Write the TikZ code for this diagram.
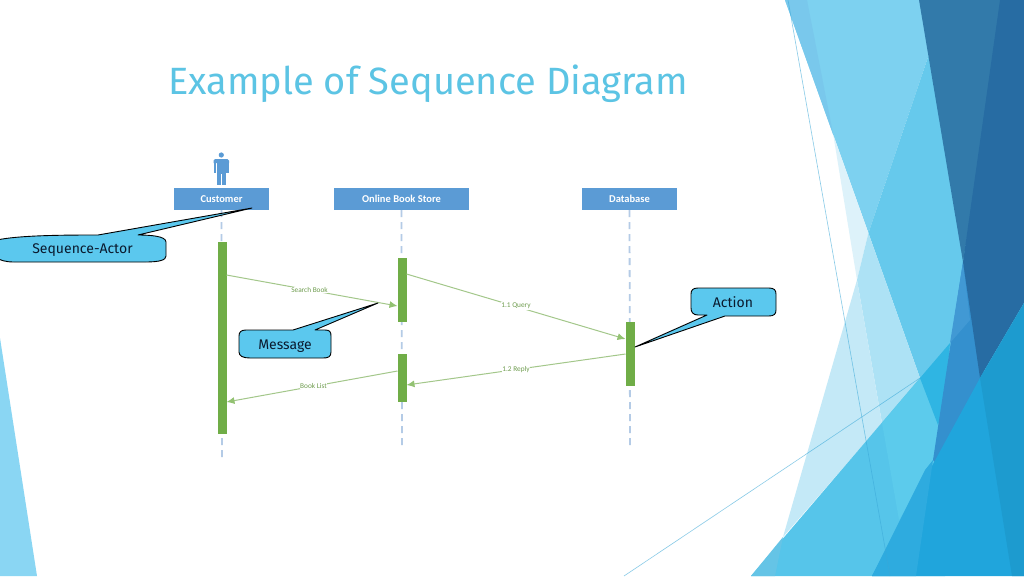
\documentclass[tikz,border=0pt]{standalone}
\usepackage{fontspec}
\setmainfont{Fira Sans}
\newfontfamily\boxfont{Carlito}
\usetikzlibrary{arrows.meta}
\definecolor{titleblue}{HTML}{5CC4E4}
\definecolor{headblue}{HTML}{5B9BD5}
\definecolor{lifeblue}{HTML}{B4CBE6}
\definecolor{actgreen}{HTML}{70AD47}
\definecolor{msggreen}{HTML}{A3C78A}
\definecolor{msgtip}{HTML}{93C272}
\definecolor{msgtext}{HTML}{6E9C4E}
\definecolor{callfill}{HTML}{5BC8EE}
\definecolor{callink}{HTML}{0A1A2E}
\definecolor{fa}{RGB}{138,214,243}
\definecolor{fb}{RGB}{125,209,240}
\definecolor{fc}{RGB}{121,200,236}
\definecolor{fd}{RGB}{102,201,236}
\definecolor{fe}{RGB}{221,242,250}
\definecolor{ff}{RGB}{173,226,245}
\definecolor{fg}{RGB}{196,233,247}
\definecolor{fh}{RGB}{50,122,170}
\definecolor{fi}{RGB}{39,108,163}
\definecolor{fj}{RGB}{86,197,234}
\definecolor{fk}{RGB}{92,203,236}
\definecolor{fl}{RGB}{101,196,230}
\definecolor{fm}{RGB}{47,181,227}
\definecolor{fn}{RGB}{52,144,206}
\definecolor{fnl}{RGB}{65,153,212}
\definecolor{fo}{RGB}{32,165,220}
\definecolor{fp}{RGB}{46,171,223}
\definecolor{fq}{RGB}{29,155,207}
\definecolor{fline}{RGB}{58,168,216}
\tikzset{
  poly/.style={fill=#1,draw=none},
  thinline/.style={draw=fline,draw opacity=0.6,line width=0.6pt},
  headbox/.style={fill=headblue,draw=none,minimum height=22pt,inner sep=0pt,text=white,font=\boxfont\bfseries\fontsize{10.5}{11}\selectfont},
  lifeline/.style={draw=lifeblue,line width=1.8pt,dash pattern=on 7pt off 5pt},
  actbox/.style={fill=actgreen,draw=none,minimum width=9pt,inner sep=0pt},
  message/.style={draw=msggreen,line width=1pt,-{Latex[length=8pt,width=7pt,color=msgtip]}},
  msglabel/.style={fill=white,inner sep=0.6pt,text=msgtext,font=\boxfont\fontsize{7.3}{8}\selectfont},
  callout/.style={fill=callfill,draw=black,line width=0.9pt,line join=round},
  calltext/.style={text=callink,inner sep=0pt,font=\fontsize{14}{16}\selectfont},
}
\begin{document}
\begin{tikzpicture}[x=1pt,y=-1pt]
\useasboundingbox (0,0) rectangle (1024,576);
\fill[white] (0,0) rectangle (1024,576);
% left triangle
\path[poly=fa] (0,338) -- (37,576) -- (0,576) -- cycle;
% upper right facets
\path[poly=fb] (785,0) -- (935,0) -- (935,57) -- (928,57) -- (868.4,233) -- cycle;
\path[poly=fc] (785,0) -- (807,0) -- (833.3,135) -- cycle;
\path[poly=fd] (928,57) -- (868.4,233) -- (920,378) -- (980,378) -- (980,57) -- cycle;
\path[poly=fe] (833.3,135) -- (868.4,233) -- (857,280) -- cycle;
\path[poly=ff] (868.4,233) -- (920,378) -- (882,423) -- (857,280) -- cycle;
\path[poly=fg] (857,280) -- (882,423) -- (783,537) -- cycle;
% sky facets
\path[poly=fj] (751,576) -- (920,378) -- (945,378) -- (945,576) -- cycle;
\path[poly=fk] (882,423) -- (920,378) -- (940,423) -- (933,462) -- (899,520) -- cycle;
\path[poly=fl] (751,576) -- (775,576) -- (783,537) -- cycle;
\path[poly=fm] (920,378) -- (950,343) -- (945,400) -- (938,425) -- cycle;
\path[poly=fn] (963,262) -- (985,378) -- (942,470) -- (933,460) -- cycle;
\path[poly=fnl] (963,262) -- (970,320) -- (950,343) -- cycle;
% dark facets
\path[poly=fh] (919,0) -- (1005,0) -- (963,262) -- cycle;
\path[poly=fi] (1000,0) -- (1024,0) -- (1024,303) -- (980,378) -- (963,262) -- cycle;
% lower right facets
\path[poly=fo] (872,576) -- (980,378) -- (1024,303) -- (1024,576) -- cycle;
\path[poly=fp] (872,576) -- (916,576) -- (933,460) -- (925,470) -- cycle;
\path[poly=fq] (980,378) -- (1024,303) -- (1024,576) -- (1012,576) -- cycle;
% thin lines
\coordinate (tla) at (788,0); \coordinate (tlb) at (890,576);
\coordinate (tlc) at (624,576); \coordinate (tld) at (920,378);
\draw[thinline] (tla) -- (tlb);
\draw[thinline] (tlc) -- (tld);
% title
\node[text=titleblue,inner sep=0pt,anchor=base west,font=\fontsize{38}{42}\selectfont] (title) at (168,94) {Example of Sequence Diagram};
% actor
\fill[headblue] (221.3,155) circle (2.6);
\fill[headblue] (213.5,160.5) arc[start angle=180,end angle=90,radius=1.5pt] -- (227.5,159) arc[start angle=90,end angle=0,radius=1.5pt] -- (229,163) -- (213.5,163) -- cycle;
\fill[headblue] (213.5,162) rectangle (216.3,173);
\fill[headblue] (226.3,162) rectangle (229,173);
\fill[headblue] (216.8,162) rectangle (225.8,174);
\fill[headblue] (216.8,173) rectangle (220.9,184.5);
\fill[headblue] (221.7,173) rectangle (225.8,184.5);
% heads
\node[headbox,minimum width=95pt] (cust) at (221.5,199) {Customer};
\node[headbox,minimum width=135pt] (store) at (401.5,199) {Online Book Store};
\node[headbox,minimum width=95pt] (dbase) at (629.5,199) {Database};
\coordinate (custend) at (222,457);
\coordinate (storeend) at (402,447);
\coordinate (dbend) at (630,447);
\draw[lifeline] (cust.south) -- (custend);
\draw[lifeline] (store.south) -- (storeend);
\draw[lifeline] (dbase.south) -- (dbend);
% activations
\node[actbox,minimum height=192pt] (acust) at (222,338) {};
\node[actbox,minimum height=64pt] (astoreA) at (402,290) {};
\node[actbox,minimum height=48pt] (astoreB) at (402,378) {};
\node[actbox,minimum height=64pt] (adb) at (630,354) {};
% message ends
\coordinate (s1) at (226.5,275); \coordinate (e1) at (397.5,306);
\coordinate (s2) at (406.5,274); \coordinate (e2) at (625.5,339);
\coordinate (s3) at (625.5,354); \coordinate (e3) at (406.5,385);
\coordinate (s4) at (397.5,371); \coordinate (e4) at (226.5,402);
\draw[message] (s1) -- (e1);
\draw[message] (s2) -- (e2);
\draw[message] (s3) -- (e3);
\draw[message] (s4) -- (e4);
\node[msglabel] (lsearch) at (309.5,290) {Search Book};
\node[msglabel] (lquery) at (516,306) {1.1 Query};
\node[msglabel] (lreply) at (516,370) {1.2 Reply};
\node[msglabel] (lbook) at (313.5,386) {Book List};
% callouts
\path[callout] (-3,240) .. controls (20,235) and (70,235) .. (98,235) -- (252,208) -- (138,235) .. controls (150,235) and (166,236) .. (166,242) -- (166,256) .. controls (166,260) and (160,262) .. (145,262) -- (14,262) .. controls (5,262) and (0,260) .. (-3,258) -- cycle;
\node[calltext] (tactor) at (82.5,250.5) {Sequence-Actor};
\path[callout] (246,330) -- (293,330) -- (378,303) -- (315,330) -- (325,330) .. controls (330,330) and (331,332) .. (331,336) -- (331,352) .. controls (331,357) and (328,358) .. (323,358) -- (250,358) .. controls (243,358) and (239,356) .. (239,352) -- (239,336) .. controls (239,332) and (241,330) .. (246,330) -- cycle;
\node[calltext] (tmsg) at (285,346) {Message};
\path[callout] (698,288) -- (769,288) .. controls (774,288) and (776,290) .. (776,294) -- (776,310) .. controls (776,314) and (774,316) .. (769,316) -- (725,316) -- (635,347) -- (707,315) -- (698,315) .. controls (693,315) and (691,312) .. (691,308) -- (691,294) .. controls (691,290) and (693,288) .. (698,288) -- cycle;
\node[calltext] (tact) at (733,302) {Action};
\end{tikzpicture}
\end{document}
